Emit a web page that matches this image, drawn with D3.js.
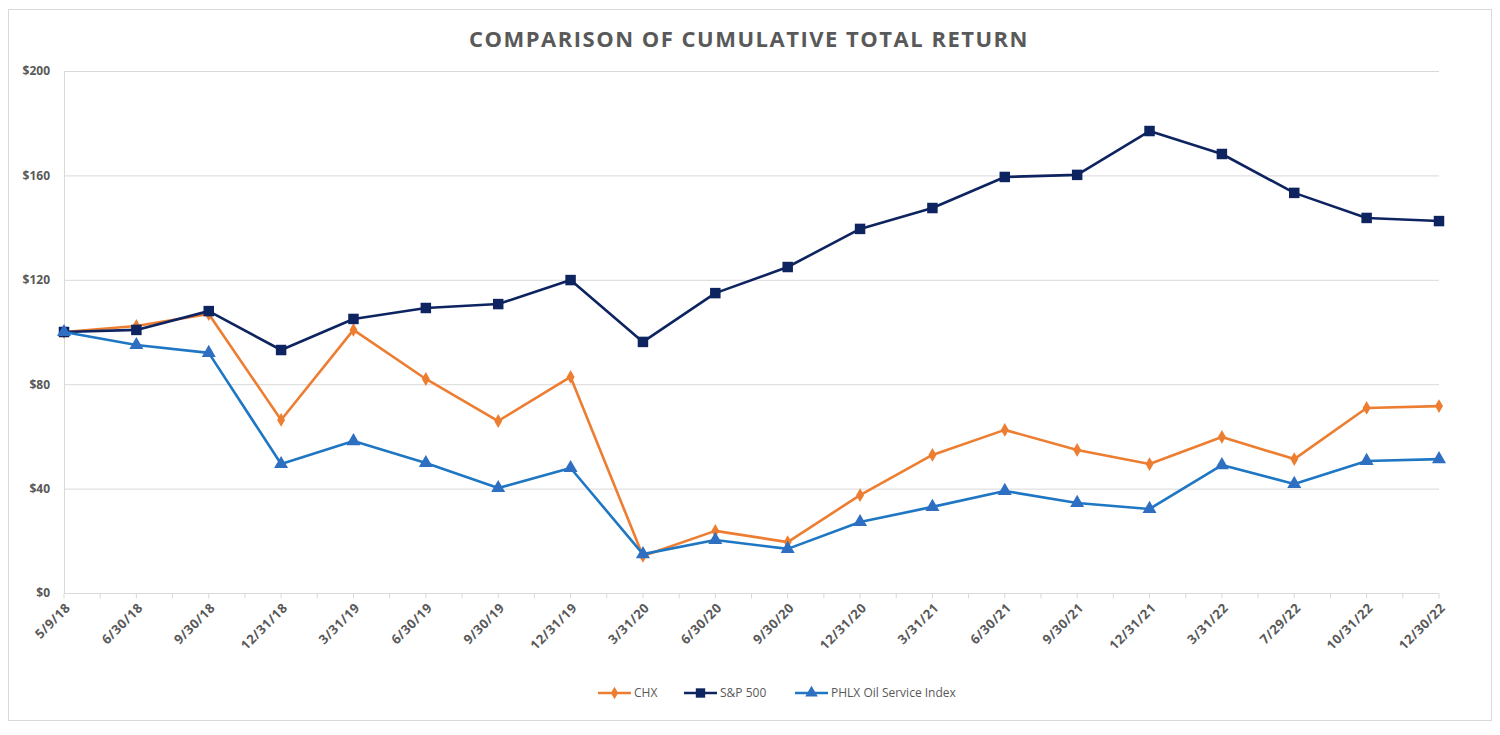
<!DOCTYPE html>
<html>
<head>
<meta charset="utf-8">
<script src="https://cdn.jsdelivr.net/npm/d3@7/dist/d3.min.js"></script>
<style>
    body { margin: 0; background: #fff; }
    svg text { font-family: "Open Sans", "Noto Sans", sans-serif; }
</style>
</head>
<body>
<svg id="chart" width="1500" height="735"></svg>
<script>
// categories (x axis)
const dates = ["5/9/18", "6/30/18", "9/30/18", "12/31/18", "3/31/19", "6/30/19", "9/30/19",
    "12/31/19", "3/31/20", "6/30/20", "9/30/20", "12/31/20", "3/31/21", "6/30/21", "9/30/21",
    "12/31/21", "3/31/22", "7/29/22", "10/31/22", "12/30/22"];

// series values
const chx = [100, 102.3, 106.9, 66.3, 100.8, 82.0, 65.9, 82.8, 14.2, 23.8, 19.5, 37.5,
    52.9, 62.5, 54.8, 49.4, 59.8, 51.3, 70.9, 71.6];
const sp500 = [100, 100.8, 108.0, 93.1, 105.0, 109.2, 110.7, 119.9, 96.2, 114.9, 124.9, 139.5,
    147.5, 159.4, 160.2, 177.0, 168.2, 153.3, 143.7, 142.5];
const phlx = [100, 95.0, 92.0, 49.4, 58.2, 49.8, 40.2, 47.9, 14.9, 20.3, 16.9, 27.2,
    33.0, 39.1, 34.5, 32.2, 49.0, 41.8, 50.6, 51.3];

const yTicks = [0, 40, 80, 120, 160, 200];

const series = [
    { name: "CHX", values: chx, color: "#ED7D31", marker: d3.symbolDiamond, size: 55 },
    { name: "S&P 500", values: sp500, color: "#0D2461", marker: d3.symbolSquare, size: 110 },
    { name: "PHLX Oil Service Index", values: phlx, color: "#1F77C4", marker: d3.symbolTriangle, size: 85, fill: "#2E6FC2" }
];

const svg = d3.select("#chart");
const plotL = 64, plotR = 1439, plotT = 71, plotB = 593;

// outer border
svg.append("rect")
    .attr("x", 8.5).attr("y", 9.5)
    .attr("width", 1483).attr("height", 711)
    .attr("fill", "none").attr("stroke", "#d9d9d9");

svg.append("text")
    .attr("x", 749).attr("y", 47)
    .attr("text-anchor", "middle")
    .style("font-size", "22px").style("font-weight", "bold")
    .style("letter-spacing", "1.5px")
    .attr("fill", "#595959")
    .text("COMPARISON OF CUMULATIVE TOTAL RETURN");

const x = d3.scalePoint().domain(d3.range(dates.length)).range([plotL, plotR]);
const y = d3.scaleLinear().domain([0, 200]).range([plotB, plotT]);

// gridlines
svg.append("g").selectAll("line")
    .data(yTicks.filter(d => d > 0))
    .join("line")
    .attr("x1", plotL).attr("x2", plotR)
    .attr("y1", d => y(d) + 0.5).attr("y2", d => y(d) + 0.5)
    .attr("stroke", "#d9d9d9");

// y axis
const yAxis = svg.append("g")
    .attr("transform", `translate(${plotL},0)`)
    .call(d3.axisLeft(y).tickValues(yTicks).tickSize(0).tickPadding(14).tickFormat(d => "$" + d));
yAxis.select(".domain").attr("stroke", "#d9d9d9");
yAxis.selectAll("text")
    .style("font-size", "12px").style("font-weight", "bold").attr("fill", "#595959");

// x axis, with minor ticks halfway between categories
const step = x.step();
const halfTicks = d3.range(dates.length * 2 - 1).map(i => plotL + i * step / 2);
const xg = svg.append("g").attr("transform", `translate(0,${plotB + 0.5})`);
xg.append("line").attr("x1", plotL).attr("x2", plotR).attr("stroke", "#d9d9d9");
xg.selectAll(".tk").data(halfTicks).join("line")
    .attr("x1", d => d).attr("x2", d => d)
    .attr("y1", 0).attr("y2", 5)
    .attr("stroke", "#d9d9d9");
xg.selectAll(".lbl").data(dates).join("text")
    .attr("transform", (d, i) => `translate(${x(i) + 4},${12}) rotate(-45)`)
    .attr("text-anchor", "end")
    .attr("dy", "0.35em")
    .style("font-size", "13px").style("font-weight", "bold")
    .style("letter-spacing", "0.5px")
    .attr("fill", "#595959")
    .text(d => d);

// lines and markers
const line = d3.line().x((d, i) => x(i)).y(d => y(d));
series.forEach(s => {
    svg.append("path")
        .datum(s.values)
        .attr("d", line)
        .attr("fill", "none")
        .attr("stroke", s.color)
        .attr("stroke-width", 2.6)
        .attr("stroke-linejoin", "round");
    svg.append("g").selectAll("path")
        .data(s.values)
        .join("path")
        .attr("transform", (d, i) => `translate(${x(i)},${y(d)})`)
        .attr("d", d3.symbol().type(s.marker).size(s.size))
        .attr("fill", s.fill || s.color);
});

// legend
const legendX = [598, 684, 795];
series.forEach((s, i) => {
    const g = svg.append("g").attr("transform", `translate(${legendX[i]},693)`);
    g.append("line").attr("x1", 0).attr("x2", 33)
        .attr("stroke", s.color).attr("stroke-width", 2.6);
    g.append("path")
        .attr("transform", "translate(16.5,0)")
        .attr("d", d3.symbol().type(s.marker).size(s.size * 0.8))
        .attr("fill", s.fill || s.color);
    g.append("text")
        .attr("x", 36).attr("dy", "0.35em")
        .style("font-size", "12px")
        .attr("fill", "#595959")
        .text(s.name);
});
</script>
</body>
</html>
